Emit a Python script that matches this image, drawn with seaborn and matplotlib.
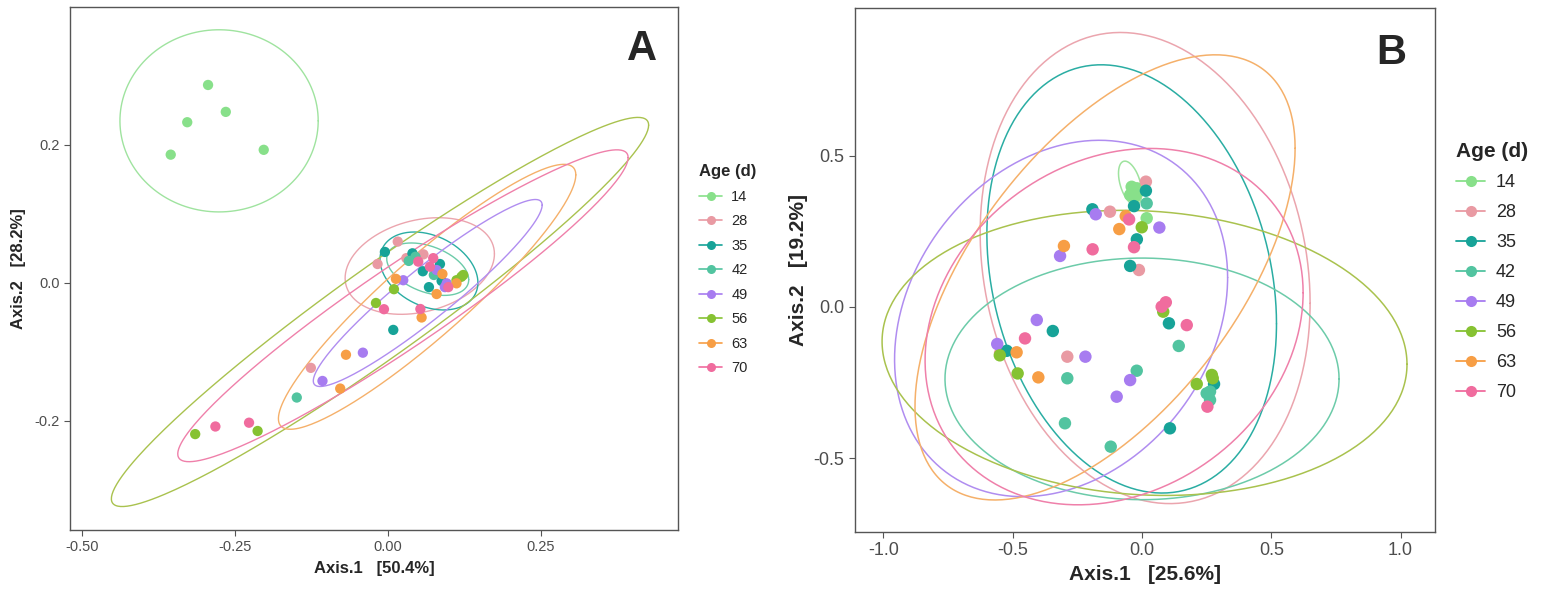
import numpy as np
import pandas as pd
import matplotlib
matplotlib.use("Agg")
import matplotlib.pyplot as plt
from matplotlib.lines import Line2D
import seaborn as sns

sns.set_style("white")
plt.rcParams['font.family'] = ['Liberation Sans', 'DejaVu Sans']

AGES = ["14", "28", "35", "42", "49", "56", "63", "70"]
COLORS = ["#88E08A", "#E99AA3", "#17A398", "#52C4A0", "#A77CF0", "#86C232", "#F79E45", "#F06C9E"]
ELL_COLORS = ["#9FE39F", "#EBA5AE", "#2AADA3", "#6CCBA9", "#B08DF0", "#A9C24E", "#F5B06A", "#EF80AA"]

# ---- Panel A points ----
A_AGE = (["14"] * 5 + ["28"] * 5 + ["35"] * 7 + ["42"] * 4 + ["49"] * 6 +
         ["56"] * 7 + ["63"] * 7 + ["70"] * 8)
A_X = [-0.294, -0.265, -0.328, -0.355, -0.203,
       0.016, -0.017, 0.058, -0.126, 0.030,
       -0.005, 0.040, 0.085, 0.057, 0.0877, 0.067, 0.0087,
       0.034, 0.075, -0.149, 0.045,
       0.0795, 0.096, 0.093, 0.025, -0.041, -0.107,
       0.112, 0.120, 0.123, 0.0098, -0.0196, -0.315, -0.213,
       0.089, 0.0795, 0.112, 0.013, 0.055, -0.0686, -0.078,
       0.0495, 0.074, 0.0686, 0.0986, -0.0065, 0.053, -0.282, -0.227]
A_Y = [0.287, 0.248, 0.233, 0.186, 0.193,
       0.060, 0.0275, 0.0415, -0.123, 0.036,
       0.045, 0.043, 0.0275, 0.017, 0.003, -0.006, -0.068,
       0.032, 0.0116, -0.166, 0.038,
       0.0188, -0.0005, -0.006, 0.004, -0.101, -0.142,
       0.004, 0.009, 0.0116, -0.009, -0.029, -0.219, -0.2145,
       0.013, -0.016, -0.0005, 0.006, -0.050, -0.104, -0.153,
       0.031, 0.036, 0.0236, -0.006, -0.038, -0.0377, -0.208, -0.2025]

# ---- Panel A ellipses (centre, half x-extent, half y-extent, correlation) ----
A_ELL_CX = [-0.276, 0.052, 0.067, 0.065, 0.065, -0.013, 0.064, 0.0245]
A_ELL_CY = [0.235, 0.0246, 0.0174, 0.020, -0.0145, -0.042, -0.020, -0.033]
A_ELL_SX = [0.162, 0.122, 0.080, 0.067, 0.187, 0.439, 0.243, 0.368]
A_ELL_SY = [0.132, 0.070, 0.0565, 0.038, 0.1355, 0.282, 0.192, 0.226]
A_ELL_RHO = [0.0, 0.25, -0.3, -0.4, 0.94, 0.96, 0.92, 0.95]

# ---- Panel B points ----
B_AGE = (["14"] * 6 + ["28"] * 5 + ["35"] * 10 + ["42"] * 9 + ["49"] * 8 +
         ["56"] * 7 + ["63"] * 5 + ["70"] * 8)
B_X = [-0.040, -0.020, -0.046, -0.027, -0.014, 0.018,
       0.015, -0.124, -0.012, -0.289, -0.549,
       0.015, -0.031, -0.192, -0.020, -0.046, 0.104, -0.345, -0.523, 0.108, 0.2785,
       0.018, 0.142, -0.289, -0.0205, -0.298, -0.121, 0.250, 0.263, 0.263,
       -0.179, 0.067, -0.317, -0.407, -0.560, -0.219, -0.046, -0.098,
       -0.001, 0.082, -0.550, -0.481, 0.2116, 0.270, 0.2735,
       -0.063, -0.088, -0.302, -0.485, -0.401,
       -0.050, -0.031, -0.191, 0.076, 0.092, 0.173, -0.4525, 0.2527]
B_Y = [0.398, 0.393, 0.371, 0.365, 0.382, 0.294,
       0.415, 0.3156, 0.1225, -0.1645, -0.153,
       0.385, 0.334, 0.3235, 0.224, 0.136, -0.054, -0.0795, -0.145, -0.4017, -0.255,
       0.343, -0.129, -0.236, -0.211, -0.385, -0.4625, -0.286, -0.280, -0.308,
       0.307, 0.263, 0.169, -0.043, -0.1225, -0.1645, -0.242, -0.297,
       0.264, -0.0155, -0.160, -0.220, -0.255, -0.225, -0.236,
       0.301, 0.258, 0.202, -0.150, -0.233,
       0.290, 0.198, 0.191, 0.001, 0.0156, -0.060, -0.104, -0.330]

B_ELL_CX = [-0.046, 0.012, -0.040, 0.0, -0.313, 0.0097, -0.143, -0.108]
B_ELL_CY = [0.410, 0.129, 0.093, -0.238, -0.038, -0.152, 0.098, -0.065]
B_ELL_SX = [0.045, 0.638, 0.560, 0.762, 0.644, 1.015, 0.735, 0.731]
B_ELL_SY = [0.073, 0.780, 0.709, 0.400, 0.590, 0.472, 0.737, 0.590]
B_ELL_RHO = [-0.45, -0.15, -0.21, 0.0, 0.23, -0.08, 0.58, 0.19]

A_XTICKS = [-0.50, -0.25, 0.00, 0.25]
A_XTICKLABELS = ["-0.50", "-0.25", "0.00", "0.25"]
A_YTICKS = [-0.2, 0.0, 0.2]
B_XTICKS = [-1.0, -0.5, 0.0, 0.5, 1.0]
B_YTICKS = [-0.5, 0.0, 0.5]

W, H = 1544, 595
fig = plt.figure(figsize=(W / 100, H / 100), dpi=100)
axA = fig.add_axes([70 / W, 1 - 530 / H, 608 / W, 523 / H])
axB = fig.add_axes([855 / W, 1 - 532 / H, 580 / W, 524 / H])

palette = dict(zip(AGES, COLORS))


def ellipse_frame(cx, cy, sx, sy, rho):
    rows = []
    t = np.linspace(0, 2 * np.pi, 300)
    for age, a, b, c, d, r in zip(AGES, cx, cy, sx, sy, rho):
        ex = a + c * np.cos(t)
        ey = b + d * (r * np.cos(t) + np.sqrt(1 - r * r) * np.sin(t))
        rows.append(pd.DataFrame({"x": ex, "y": ey, "age": age}))
    return rows


def draw_panel(ax, ages, xs, ys, ell, size, lw):
    for df_e, col in zip(ell, ELL_COLORS):
        ax.plot(df_e["x"], df_e["y"], color=col, lw=lw, zorder=1)
    df = pd.DataFrame({"x": xs, "y": ys, "age": ages})
    sns.scatterplot(data=df, x="x", y="y", hue="age", hue_order=AGES,
                    palette=palette, s=size, edgecolor="none", ax=ax,
                    legend=False, zorder=3)
    for sp in ax.spines.values():
        sp.set_color("#555555")
        sp.set_linewidth(1.0)
    ax.tick_params(axis="both", direction="out", length=4, width=0.8,
                   color="#555555", labelcolor="#4D4D4D", bottom=True, left=True)


draw_panel(axA, A_AGE, A_X, A_Y,
           ellipse_frame(A_ELL_CX, A_ELL_CY, A_ELL_SX, A_ELL_SY, A_ELL_RHO), 55, 1.0)
draw_panel(axB, B_AGE, B_X, B_Y,
           ellipse_frame(B_ELL_CX, B_ELL_CY, B_ELL_SX, B_ELL_SY, B_ELL_RHO), 80, 1.1)

axA.set_xlim(-0.5196, 0.474)
axA.set_ylim(-0.358, 0.40)
axA.set_xticks(A_XTICKS)
axA.set_xticklabels(A_XTICKLABELS)
axA.set_yticks(A_YTICKS)
axA.set_yticklabels(["-0.2", "0.0", "0.2"])
axA.tick_params(labelsize=10.5)
axA.set_xlabel("Axis.1   [50.4%]", fontsize=12, fontweight="bold", labelpad=5)
axA.set_ylabel("Axis.2   [28.2%]", fontsize=12, fontweight="bold", labelpad=6)
axA.text(0.94, 0.92, "A", transform=axA.transAxes, fontsize=30,
         fontweight="bold", ha="center", va="center")

axB.set_xlim(-1.11, 1.133)
axB.set_ylim(-0.745, 0.99)
axB.set_xticks(B_XTICKS)
axB.set_xticklabels(["-1.0", "-0.5", "0.0", "0.5", "1.0"])
axB.set_yticks(B_YTICKS)
axB.set_yticklabels(["-0.5", "0.0", "0.5"])
axB.tick_params(labelsize=13)
axB.set_xlabel("Axis.1   [25.6%]", fontsize=15, fontweight="bold", labelpad=4)
axB.set_ylabel("Axis.2   [19.2%]", fontsize=15, fontweight="bold", labelpad=4)
axB.text(0.925, 0.915, "B", transform=axB.transAxes, fontsize=30,
         fontweight="bold", ha="center", va="center")


def handles(ms, lw):
    return [Line2D([0], [0], color=c, lw=lw, marker="o", markersize=ms,
                   markeredgewidth=0) for c in COLORS]


legA = fig.legend(handles=handles(6.5, 1.2), labels=AGES, title="Age (d)",
                  loc="upper left", bbox_to_anchor=(686 / W, 1 - 151 / H),
                  frameon=False, fontsize=10.5, title_fontsize=12,
                  handlelength=1.6, handletextpad=0.6, labelspacing=0.72,
                  alignment="left")
legA.get_title().set_fontweight("bold")
legB = fig.legend(handles=handles(8, 1.3), labels=AGES, title="Age (d)",
                  loc="upper left", bbox_to_anchor=(1440 / W, 1 - 126 / H),
                  frameon=False, fontsize=13, title_fontsize=15,
                  handlelength=1.6, handletextpad=0.6, labelspacing=0.72,
                  alignment="left")
legB.get_title().set_fontweight("bold")

fig.savefig("out.png", dpi=100)
